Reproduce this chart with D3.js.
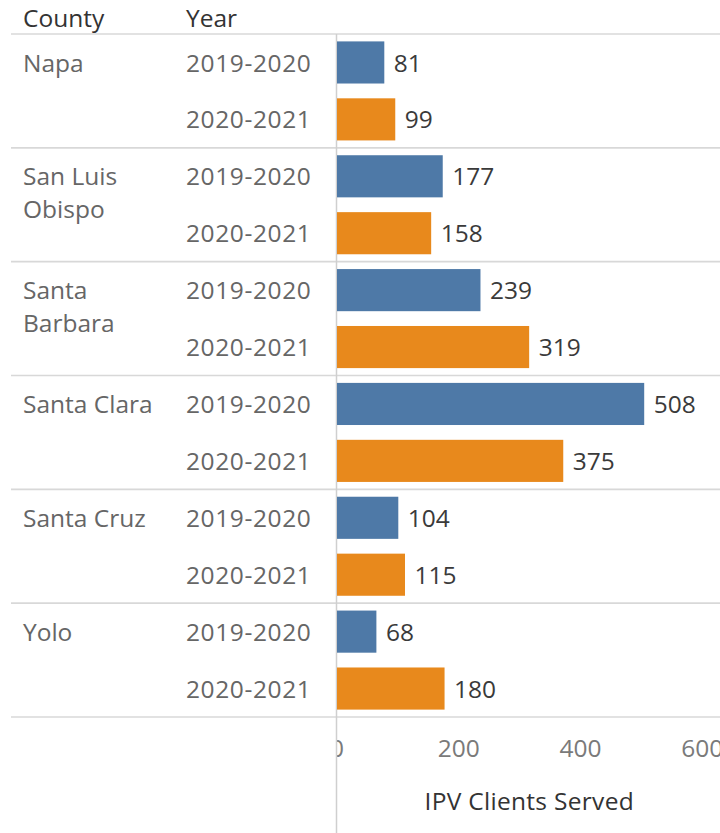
<!DOCTYPE html>
<html>
<head>
<meta charset="utf-8">
<script src="https://cdn.jsdelivr.net/npm/d3@7"></script>
<style>
  html, body { margin: 0; padding: 0; background: #fff; }
  svg { display: block; font-family: "Open Sans", sans-serif; }
</style>
</head>
<body>
<svg id="chart" width="720" height="833"></svg>
<script>
const counties = ["Napa", "San Luis Obispo", "Santa Barbara", "Santa Clara", "Santa Cruz", "Yolo"];
const years = ["2019-2020", "2020-2021"];
const values2019 = [81, 177, 239, 508, 104, 68];
const values2020 = [99, 158, 319, 375, 115, 180];
const xTicks = [0, 200, 400, 600];
const colors = ["#4e79a7", "#e8891c"];
const axisTitle = "IPV Clients Served";

const W = 720, H = 833;
const paneTop = 34, paneBottom = 717;
const plotLeft = 336.5, plotRight = 720;
const fs = 24.5;

const rows = [];
counties.forEach((c, i) => {
  rows.push({county: c, year: years[0], value: values2019[i], s: 0, key: c + "|" + years[0]});
  rows.push({county: c, year: years[1], value: values2020[i], s: 1, key: c + "|" + years[1]});
});

const svg = d3.select("#chart");
const x = d3.scaleLinear().domain([0, 600]).range([plotLeft, 701.7]);
const yGroup = d3.scaleBand().domain(counties).range([paneTop, paneBottom]);
const yRow = d3.scaleBand().domain(rows.map(d => d.key)).range([paneTop, paneBottom])
  .paddingInner(0.26).paddingOuter(0.13);

// clip for plot pane
svg.append("clipPath").attr("id", "pane").append("rect")
  .attr("x", plotLeft + 0.5).attr("y", 0).attr("width", plotRight - plotLeft).attr("height", H);

// gridlines + tick labels via axis
const axisG = svg.append("g").attr("transform", `translate(0,723)`).attr("clip-path", "url(#pane)")
  .call(d3.axisBottom(x).tickValues(xTicks).tickSize(-(723 - paneTop)).tickFormat(d3.format("d")));
axisG.select(".domain").remove();
axisG.selectAll(".tick line").attr("stroke", "#e8e8e8").attr("stroke-width", 1.3);
axisG.selectAll(".tick text").attr("y", 34).attr("dy", 0)
  .attr("fill", "#7a7a7a").attr("font-size", fs).attr("font-family", "Open Sans, sans-serif");

// horizontal separators
const seps = [paneTop].concat(counties.map(c => yGroup(c) + yGroup.bandwidth()));
svg.append("g").selectAll("line").data(seps).join("line")
  .attr("x1", 11).attr("x2", W).attr("y1", d => d).attr("y2", d => d)
  .attr("stroke", "#d8d8d8").attr("stroke-width", 1.6);

// vertical pane line
svg.append("line").attr("x1", plotLeft).attr("x2", plotLeft).attr("y1", paneTop).attr("y2", H)
  .attr("stroke", "#cfcfcf").attr("stroke-width", 1.5);

// headers
svg.append("text").attr("x", 23).attr("y", 27).attr("font-size", fs).attr("fill", "#333").text("County");
svg.append("text").attr("x", 186).attr("y", 27).attr("font-size", fs).attr("fill", "#333").text("Year");

// county labels with wrap
const maxW = 150;
counties.forEach(c => {
  const cy = yRow(c + "|" + years[0]) + yRow.bandwidth() / 2;
  const t = svg.append("text").attr("x", 23).attr("y", cy).attr("dy", "0.37em")
    .attr("font-size", fs).attr("fill", "#666");
  const words = c.split(" ");
  let line = [];
  let ts = t.append("tspan").attr("x", 23);
  words.forEach(w => {
    line.push(w);
    ts.text(line.join(" "));
    if (ts.node().getComputedTextLength() > maxW && line.length > 1) {
      line.pop();
      ts.text(line.join(" "));
      line = [w];
      ts = t.append("tspan").attr("x", 23).attr("dy", 33).text(w);
    }
  });
});

// year labels
svg.append("g").selectAll("text").data(rows).join("text")
  .attr("x", 186).attr("y", d => yRow(d.key) + yRow.bandwidth() / 2).attr("dy", "0.37em")
  .attr("font-size", fs).attr("letter-spacing", 0.6).attr("fill", "#666").text(d => d.year);

// bars
svg.append("g").selectAll("rect").data(rows).join("rect")
  .attr("x", x(0) + 0.5).attr("y", d => yRow(d.key))
  .attr("width", d => x(d.value) - x(0) - 2).attr("height", yRow.bandwidth())
  .attr("fill", d => colors[d.s]);

// value labels
svg.append("g").selectAll("text").data(rows).join("text")
  .attr("x", d => x(d.value) + 8).attr("y", d => yRow(d.key) + yRow.bandwidth() / 2).attr("dy", "0.37em")
  .attr("font-size", fs).attr("fill", "#3a3a3a").text(d => d.value);

// axis title
svg.append("text").attr("x", (plotLeft + plotRight) / 2 + 1).attr("y", 810).attr("text-anchor", "middle")
  .attr("font-size", fs).attr("letter-spacing", 0.3).attr("fill", "#333").text(axisTitle);
</script>
</body>
</html>
